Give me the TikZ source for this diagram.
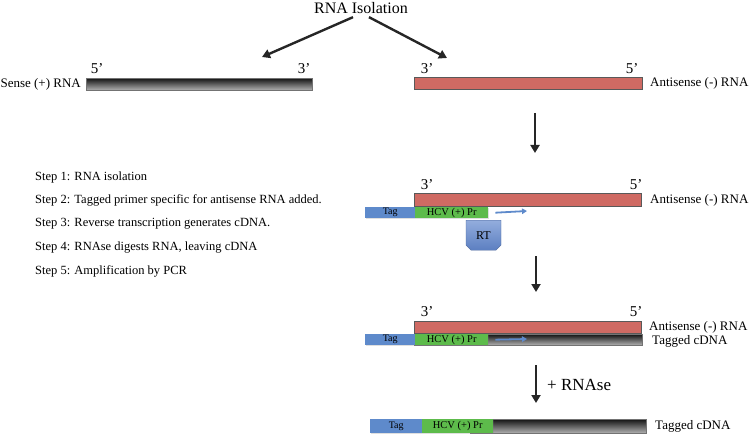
\documentclass[tikz,border=0pt]{standalone}
\usepackage{fontspec}
\setmainfont{Liberation Serif}
\usetikzlibrary{arrows.meta,shapes.misc,shadows}

\definecolor{rnared}{HTML}{CF6A63}
\definecolor{tagblue}{HTML}{5E8ACB}
\definecolor{prgreen}{HTML}{5DBB4B}
\definecolor{rttop}{HTML}{93ADDD}
\definecolor{rtbot}{HTML}{5C7FC1}

\begin{document}
\begin{tikzpicture}[
    x=1pt, y=-1pt,
    % text styles
    titletxt/.style={font=\fontsize{16}{19}\selectfont},
    prime/.style={font=\fontsize{15}{17}\selectfont, inner sep=0pt},
    lbltxt/.style={font=\fontsize{13}{15}\selectfont, anchor=west, inner sep=0pt},
    steptxt/.style={font=\fontsize{12.5}{15}\selectfont, anchor=west, inner sep=0pt},
    % strands
    strand/.style={anchor=north west, inner sep=0pt},
    rnabar/.style={strand, draw=black!65, line width=0.8pt, fill=rnared},
    dnabar/.style={strand, draw=black!55, line width=0.6pt,
                   top color=black!92, bottom color=black!30},
    tagbox/.style={strand, fill=tagblue, font=\fontsize{10}{12}\selectfont,
                   drop shadow={opacity=0.25, shadow xshift=1pt, shadow yshift=-1.2pt}},
    prbox/.style={strand, fill=prgreen, font=\fontsize{10.5}{12}\selectfont,
                  drop shadow={opacity=0.25, shadow xshift=1pt, shadow yshift=-1.2pt}},
    rtbox/.style={chamfered rectangle, chamfered rectangle corners={south west,south east},
                  chamfered rectangle xsep=2.5pt, chamfered rectangle ysep=2.5pt,
                  top color=rttop, bottom color=rtbot,
                  draw=rtbot!80!black, line width=0.4pt,
                  minimum width=35pt, minimum height=30pt, inner sep=0pt,
                  font=\fontsize{12}{14}\selectfont},
    % arrows
    bigarr/.style={-{Triangle[length=8pt,width=9pt]}, line width=2.4pt, draw=black!85},
    extarr/.style={-{Triangle[length=5pt,width=5.5pt]}, line width=1.8pt, draw=tagblue},
]
\useasboundingbox (0,0) rectangle (750,441);

%% -- RNA isolation --
\node[titletxt] (title) at (361,8) {RNA Isolation};

%% -- Stage 1: both strands, y = 78 --
\node[dnabar, minimum width=226pt, minimum height=12pt] (sense) at (86,78) {};
\node[rnabar, minimum width=228pt, minimum height=12pt] (anti1) at (414,77) {};
\node[prime] (s5) at (97,69)  {5’};
\node[prime] (s3) at (304,69) {3’};
\node[prime] (a3) at (427,69) {3’};
\node[prime] (a5) at (632,69) {5’};
\node[lbltxt, anchor=east] (senselbl) at (81,84) {Sense (+) RNA};
\node[lbltxt] (antilbl1) at (650,83) {Antisense (-) RNA};

\draw[bigarr] ([xshift=-8pt]title.south) -- (262,57);
\draw[bigarr] ([xshift=8pt]title.south) -- (447,58);

%% -- Steps --
\foreach \txt [count=\i] in {
    {Step 1: RNA isolation},
    {Step 2: Tagged primer specific for antisense RNA added.},
    {Step 3: Reverse transcription generates cDNA.},
    {Step 4: RNAse digests RNA, leaving cDNA},
    {Step 5: Amplification by PCR}}
  \node[steptxt] (step\i) at (35,{177+23.5*(\i-1)}) {\txt};

%% -- Stage 2: primer annealed, y = 193 --
\coordinate (d1a) at (535,113);
\coordinate (d1b) at (535,153);
\draw[bigarr] (d1a) -- (d1b);

\node[prime] (b3) at (427,185) {3’};
\node[prime] (b5) at (636,185) {5’};
\node[rnabar, minimum width=227pt, minimum height=13pt] (anti2) at (414,193) {};
\node[lbltxt] (antilbl2) at (650,200) {Antisense (-) RNA};
\node[tagbox, minimum width=50pt, minimum height=11pt] (tag2) at (365,207) {Tag};
\node[prbox, minimum width=73pt, minimum height=11pt] (pr2) at (415,207) {HCV (+) Pr};
\coordinate (ext2) at (527,211);
\draw[extarr] ([xshift=7pt]pr2.east) -- (ext2);
\node[rtbox, anchor=north] (rt) at (483.5,220) {RT};

%% -- Stage 3: cDNA made, y = 321 --
\coordinate (d2a) at (536,256);
\coordinate (d2b) at (536,292);
\draw[bigarr] (d2a) -- (d2b);

\node[prime] (c3) at (427,312) {3’};
\node[prime] (c5) at (636,312) {5’};
\node[rnabar, minimum width=227pt, minimum height=12pt] (anti3) at (414,321) {};
\node[dnabar, minimum width=228pt, minimum height=11pt] (cdna3) at (414,334) {};
\node[tagbox, minimum width=50pt, minimum height=11pt] (tag3) at (365,334) {Tag};
\node[prbox, minimum width=73pt, minimum height=11pt] (pr3) at (415,334) {HCV (+) Pr};
\coordinate (ext3) at (527,339);
\draw[extarr] ([xshift=7pt]pr3.east) -- (ext3);
\node[lbltxt, font=\fontsize{13}{14}\selectfont] (antilbl3) at (649,327) {Antisense (-) RNA};
\node[lbltxt, font=\fontsize{13}{14}\selectfont] (cdnalbl3) at (652,341) {Tagged cDNA};

%% -- Stage 4: RNA removed, y = 419 --
\coordinate (d3a) at (536,365);
\coordinate (d3b) at (536,403);
\draw[bigarr] (d3a) -- (d3b);
\node[font=\fontsize{17}{19}\selectfont, anchor=west, inner sep=0pt] (rnase) at (547,385) {+ RNAse};

\node[dnabar, minimum width=176pt, minimum height=14pt] (cdna4) at (470,419) {};
\node[tagbox, minimum width=52pt, minimum height=14pt] (tag4) at (370,419) {Tag};
\node[prbox, minimum width=71pt, minimum height=14pt] (pr4) at (422,419) {HCV (+) Pr};
\node[lbltxt] (cdnalbl4) at (655,426) {Tagged cDNA};

\end{tikzpicture}
\end{document}
